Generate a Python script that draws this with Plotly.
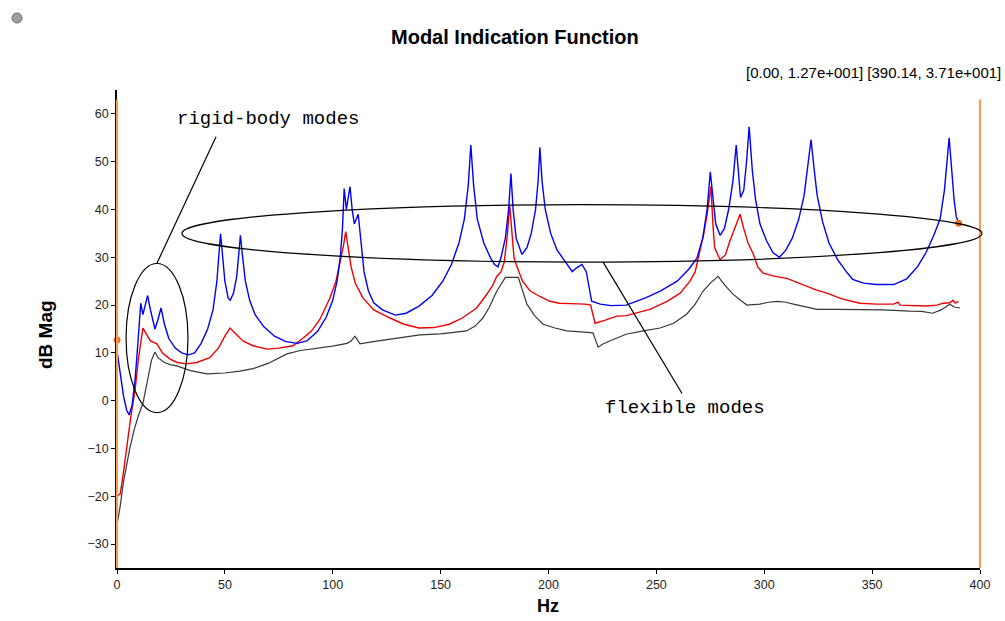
import plotly.graph_objects as go

# ---------------- data ----------------
blue_hz = [0, 1.5, 3, 4.5, 5.6, 7, 8.5, 10, 11, 12, 13, 14.2, 15.5, 17.6, 19, 20.4, 22, 24, 27, 30, 33, 36, 39, 42,
           44.5, 46.3, 47.3, 48, 48.8, 50, 51.5, 52.5, 54, 55.5, 56.5, 57.2, 58, 59.5, 61.5, 64, 68, 73, 78, 83.5,
           88, 93, 97, 100, 102, 103.5, 104.5, 105.3, 106.3, 107, 108, 109, 110, 111.8, 113, 114.5, 116.5, 119,
           123, 129, 134, 140, 146, 151, 155, 158.5, 161, 162.8, 164, 165.3, 167, 170, 173, 175, 176.6, 178, 180,
           181.5, 182.6, 183.6, 185, 187.7, 190, 192, 194, 195.2, 196, 197, 198.5, 201, 204, 207, 211, 213, 215.5,
           217.5, 219, 220, 224, 229, 236, 245, 252, 259.6, 265, 268.8, 271.5, 273.5, 275, 276.2, 277.5, 279.5,
           281.5, 283.5, 285.5, 287, 288.2, 289, 290.5, 291.8, 293, 294.5, 296, 298, 301, 304, 307, 310, 313, 316,
           318.5, 320.5, 321.7, 323, 324.5, 327, 330, 334, 338, 341, 346, 352, 360, 366, 371, 375, 378.5, 381.5,
           383.5, 385.7, 387, 388, 389, 390.14]
blue_db = [10.5, 6, 1, -2, -3, -1, 5, 14, 20.4, 18, 20, 22, 19, 15, 17, 19.4, 16, 13, 11, 10, 9.6, 10, 12, 15,
           19, 25, 31, 34.9, 31, 25, 21.5, 21, 22.5, 26, 31, 34.6, 31, 25, 21, 18, 15.5, 13.5, 12.4, 12,
           12.5, 14.5, 17.5, 21, 25, 30, 36, 44.4, 40, 42, 44.8, 40, 37, 39, 33, 27, 23, 20.5,
           19, 17.9, 18.3, 19.8, 22, 25, 28.5, 33, 38, 45, 53.5, 45, 38, 33, 30, 28.5, 28, 30, 34,
           40, 47.5, 40, 34, 30.6, 32, 35, 40, 46, 53, 46, 40, 35, 31.5, 29.5, 27, 27.8, 28.5,
           27, 23, 20.8, 20.2, 19.9, 20, 21.5, 23, 25, 27.5, 29.8, 34, 40, 47.9, 42, 37, 34.6,
           36, 40, 46, 53.5, 46, 42.5, 44, 50, 57.3, 48, 42, 37, 33.5, 31, 30, 31.5, 34, 38,
           43, 50, 54.6, 49, 43, 37.5, 33, 29.5, 27, 25.4, 24.6, 24.3, 24.3, 25.5, 28, 31, 34.5, 38,
           44, 55, 47, 42, 38.5, 37.1]

red_hz = [0, 1.5, 3, 5, 6.5, 8.3, 10, 12, 13.5, 15.5, 18.5, 21, 24.6, 28, 32, 37, 43, 47, 50, 52.4, 55, 58.4, 63,
          69.5, 75, 81.6, 86, 90, 94, 98.7, 101.5, 103.5, 105, 106, 107, 108.5, 110.5, 114, 119, 126.5, 133, 140,
          147, 154, 160, 166.7, 171, 174, 176, 178, 179.5, 181, 182, 183, 184, 185, 188, 191.4, 196, 200.7, 205,
          210, 217, 219.5, 221.6, 226, 231.7, 236, 247, 255, 261, 265.6, 268, 270, 272, 273.5, 275.3, 276.2, 277,
          279.5, 282, 284, 286.5, 288.8, 290.5, 292.5, 295, 297, 299.4, 305, 310.5, 318, 324, 329, 336, 344.4,
          352, 360, 362, 363, 370, 375, 380, 383, 386, 387.5, 388.5, 390]
red_db = [-20, -19.5, -15, -8, -3, 2, 9, 15.2, 14, 12.5, 11.9, 10, 8.7, 8, 7.7, 8, 9, 11, 13.5, 15.2, 14, 12.5, 11.5,
          10.8, 11, 11.5, 13, 14.5, 17, 21.5, 25, 29, 32.5, 35.4, 32, 28, 24.5, 21.5, 19, 17.3, 16, 15.2,
          15.3, 16, 17.3, 19.4, 22, 24, 26, 27, 29, 35, 41, 35, 30, 28.5, 25, 23, 21.8, 20.8, 20.4,
          20.3, 20.2, 20, 16.2, 16.8, 17.7, 17.8, 19.1, 20.8, 22.5, 25, 27, 31, 35, 39, 44.8, 37, 32,
          29.5, 30.5, 33.3, 36.5, 39, 36, 33, 30.6, 28, 26.7, 26, 25.6, 24.2, 23.2, 22.5, 21.3, 20.4,
          20.2, 20.2, 20.6, 20, 19.9, 19.8, 20, 20.4, 20.5, 21, 20.4, 20.8]

black_hz = [0, 1.5, 3, 4.5, 6, 8, 10, 12, 14, 16, 17.6, 19, 22, 25, 27.8, 34, 41.7, 50, 57, 63, 70, 78.8, 85, 94,
            100, 106.6, 108.5, 110.3, 111.5, 112.6, 118, 125, 131, 140.4, 150, 157, 162, 166, 169.6, 172.5, 176,
            180, 186, 188, 190, 193.5, 197.5, 203, 208.5, 215, 220.6, 223, 225, 230, 236, 244, 251.7, 258, 264,
            268, 271.6, 275, 278.6, 282, 285.5, 289, 292, 298, 302, 306, 310, 313.5, 318, 324.5, 335, 344, 355,
            367.5, 373, 378, 382, 386, 388, 390.7]
black_db = [-26, -22, -17, -13.5, -9.8, -6, -3, -0.6, 4, 8.5, 10.2, 9, 8, 7.5, 7.3, 6.3, 5.6, 5.8, 6.2, 6.7, 7.8,
            9.8, 10.5, 11, 11.4, 12, 12.5, 13.5, 12.5, 11.9, 12.3, 12.8, 13.1, 13.75, 14, 14.3, 14.6, 15.6, 17.3,
            19.5, 22.9, 25.8, 25.8, 23, 20.2, 17.8, 16, 15.2, 14.6, 14.4, 14.2, 11.2, 11.8, 12.8, 13.9, 14.6,
            15.2, 16.2, 18.1, 20.2, 22.9, 24.6, 26, 24, 22.3, 21, 20, 20.2, 20.6, 20.8, 20.6, 20.2, 19.7, 19.1,
            19.1, 19.1, 19, 18.75, 18.7, 18.3, 19, 20.2, 19.6, 19.4]

cursor_hz = [0.00, 390.14]
cursor_db = [12.7, 37.1]

x_ticks = [0, 50, 100, 150, 200, 250, 300, 350, 400]
y_ticks = [-30, -20, -10, 0, 10, 20, 30, 40, 50, 60]

title_text = "Modal Indication Function"
x_title = "Hz"
y_title = "dB Mag"
cursor_text = "[0.00, 1.27e+001] [390.14, 3.71e+001]"
rigid_text = "rigid-body modes"
flex_text = "flexible modes"

X_RANGE = [0, 400]
Y_RANGE = [-35, 65]


def px(x):
    return (x - X_RANGE[0]) / (X_RANGE[1] - X_RANGE[0])


def py(y):
    return (y - Y_RANGE[0]) / (Y_RANGE[1] - Y_RANGE[0])


fig = go.Figure()

fig.add_trace(go.Scatter(x=black_hz, y=black_db, mode="lines",
                         line=dict(color="rgb(55,55,55)", width=1.2), showlegend=False))
fig.add_trace(go.Scatter(x=red_hz, y=red_db, mode="lines",
                         line=dict(color="rgb(240,0,0)", width=1.4), showlegend=False))
fig.add_trace(go.Scatter(x=blue_hz, y=blue_db, mode="lines",
                         line=dict(color="rgb(0,0,245)", width=1.4), showlegend=False))

shapes = []
# cursor lines (orange)
for cx in [0, 400]:
    shapes.append(dict(type="line", xref="paper", yref="paper", x0=px(cx), x1=px(cx),
                       y0=0, y1=py(63), line=dict(color="rgb(238,160,80)", width=2.2), layer="above"))
# big ellipse around flexible modes
shapes.append(dict(type="circle", xref="paper", yref="paper",
                   x0=px(30.1), x1=px(400.9), y0=py(29), y1=py(41),
                   line=dict(color="black", width=1.2)))
# small ellipse around rigid-body modes
shapes.append(dict(type="circle", xref="paper", yref="paper",
                   x0=px(4.2), x1=px(32.9), y0=py(-2.5), y1=py(28.7),
                   line=dict(color="black", width=1.2)))
# leader lines
shapes.append(dict(type="line", xref="paper", yref="paper",
                   x0=px(45.9), y0=py(55.2), x1=px(18.5), y1=py(28.75),
                   line=dict(color="black", width=1.2)))
shapes.append(dict(type="line", xref="paper", yref="paper",
                   x0=px(225.3), y0=py(29), x1=px(261.9), y1=py(1.5),
                   line=dict(color="black", width=1.2)))
# grey icon top-left
shapes.append(dict(type="circle", xref="paper", yref="paper",
                   x0=(12 - 117) / 863, x1=(22 - 117) / 863,
                   y0=(568 - 23) / 478, y1=(568 - 13) / 478,
                   fillcolor="rgb(160,160,160)", line=dict(color="rgb(110,110,110)", width=1)))

fig.add_trace(go.Scatter(x=cursor_hz, y=cursor_db, mode="markers", cliponaxis=False,
                         marker=dict(color="rgb(240,110,30)", size=7, symbol="circle"),
                         showlegend=False))

annotations = [
    dict(text="<b>" + title_text + "</b>", xref="paper", yref="paper", x=(515 - 117) / 863,
         y=(568 - 37) / 478, showarrow=False, xanchor="center", yanchor="middle",
         font=dict(family="Liberation Sans, Arial", size=20, color="black")),
    dict(text="<b>" + y_title + "</b>", xref="paper", yref="paper", x=(45 - 117) / 863,
         y=(568 - 335) / 478, showarrow=False, textangle=-90, xanchor="center", yanchor="middle",
         font=dict(family="Liberation Sans, Arial", size=19, color="black")),
    dict(text="<b>" + x_title + "</b>", xref="paper", yref="paper", x=(548 - 117) / 863,
         y=(568 - 606) / 478, showarrow=False, xanchor="center", yanchor="middle",
         font=dict(family="Liberation Sans, Arial", size=18, color="black")),
    dict(text=cursor_text, xref="paper", yref="paper", x=(1003 - 117) / 863,
         y=(568 - 73) / 478, showarrow=False, xanchor="right", yanchor="middle",
         font=dict(family="Liberation Sans, Arial", size=15, color="black")),
    dict(text=rigid_text, xref="x", yref="y", x=26.9, y=59, showarrow=False,
         xanchor="left", yanchor="middle",
         font=dict(family="Liberation Mono, DejaVu Sans Mono", size=19, color="black")),
    dict(text=flex_text, xref="x", yref="y", x=225.3, y=-1.5, showarrow=False,
         xanchor="left", yanchor="middle",
         font=dict(family="Liberation Mono, DejaVu Sans Mono", size=19, color="black")),
]

fig.update_layout(
    width=1005, height=621,
    margin=dict(l=117, r=25, t=90, b=53, pad=0),
    paper_bgcolor="white", plot_bgcolor="white",
    shapes=shapes, annotations=annotations,
    showlegend=False,
    font=dict(family="Liberation Sans, Arial", size=11, color="black"),
)
fig.update_xaxes(range=X_RANGE, tickvals=x_ticks, showgrid=False, zeroline=False,
                 showline=True, linecolor="black", linewidth=1.5, ticks="outside", ticklen=4,
                 tickcolor="black", tickfont=dict(size=12.5, color="rgb(30,30,30)"))
fig.update_yaxes(range=Y_RANGE, tickvals=y_ticks, showgrid=False, zeroline=False,
                 showline=True, linecolor="black", linewidth=1.5, ticks="outside", ticklen=4,
                 tickcolor="black", tickfont=dict(size=12.5, color="rgb(30,30,30)"))

fig.write_html("out.html", config={"displayModeBar": False},
               post_script="document.body.style.margin='0';document.body.style.overflow='hidden';")
